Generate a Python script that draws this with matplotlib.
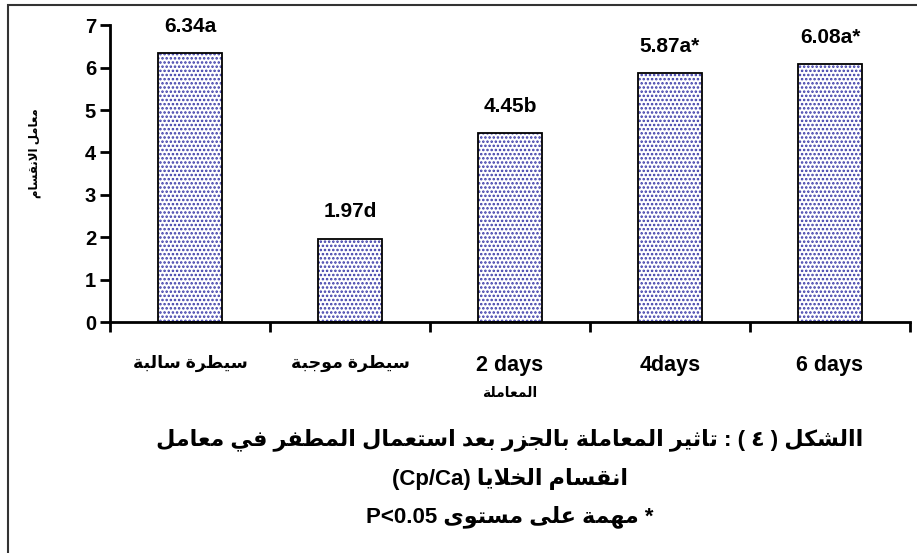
import numpy as np
import matplotlib
matplotlib.use("Agg")
import matplotlib.pyplot as plt
from matplotlib.patches import Rectangle

# ---------------- data ----------------
categories = ['سيطرة سالبة', 'سيطرة موجبة', '2 days', '4days', '6 days']
values = [6.34, 1.97, 4.45, 5.87, 6.08]
sig_letters = ['a', 'd', 'b', 'a*', 'a*']
y_ticks = [0, 1, 2, 3, 4, 5, 6, 7]
x_label = 'المعاملة'
y_label = 'معامل الانقسام'
title_lines = [
    'االشكل ( ٤ ) : تاثير المعاملة بالجزر بعد استعمال المطفر في معامل',
    'انقسام الخلايا (Cp/Ca)',
    '* مهمة على مستوى P<0.05',
]

# ------------- minimal Arabic shaping (matplotlib has no shaper) -------------
FORMS = {
    'ا': ('\uFE8D', '\uFE8E', None, None),
    'إ': ('\uFE87', '\uFE88', None, None),
    'ب': ('\uFE8F', '\uFE90', '\uFE91', '\uFE92'),
    'ة': ('\uFE93', '\uFE94', None, None),
    'ت': ('\uFE95', '\uFE96', '\uFE97', '\uFE98'),
    'ث': ('\uFE99', '\uFE9A', '\uFE9B', '\uFE9C'),
    'ج': ('\uFE9D', '\uFE9E', '\uFE9F', '\uFEA0'),
    'خ': ('\uFEA5', '\uFEA6', '\uFEA7', '\uFEA8'),
    'د': ('\uFEA9', '\uFEAA', None, None),
    'ر': ('\uFEAD', '\uFEAE', None, None),
    'ز': ('\uFEAF', '\uFEB0', None, None),
    'س': ('\uFEB1', '\uFEB2', '\uFEB3', '\uFEB4'),
    'ش': ('\uFEB5', '\uFEB6', '\uFEB7', '\uFEB8'),
    'ط': ('\uFEC1', '\uFEC2', '\uFEC3', '\uFEC4'),
    'ع': ('\uFEC9', '\uFECA', '\uFECB', '\uFECC'),
    'ف': ('\uFED1', '\uFED2', '\uFED3', '\uFED4'),
    'ق': ('\uFED5', '\uFED6', '\uFED7', '\uFED8'),
    'ك': ('\uFED9', '\uFEDA', '\uFEDB', '\uFEDC'),
    'ل': ('\uFEDD', '\uFEDE', '\uFEDF', '\uFEE0'),
    'م': ('\uFEE1', '\uFEE2', '\uFEE3', '\uFEE4'),
    'ن': ('\uFEE5', '\uFEE6', '\uFEE7', '\uFEE8'),
    'ه': ('\uFEE9', '\uFEEA', '\uFEEB', '\uFEEC'),
    'و': ('\uFEED', '\uFEEE', None, None),
    'ى': ('\uFEEF', '\uFEF0', None, None),
    'ي': ('\uFEF1', '\uFEF2', '\uFEF3', '\uFEF4'),
}
LAMALEF = {'ا': ('\uFEFB', '\uFEFC'), 'إ': ('\uFEF9', '\uFEFA')}


def _dual(c):
    return c in FORMS and FORMS[c][2] is not None


def shape(word):
    out = []
    i, n = 0, len(word)
    while i < n:
        c = word[i]
        if c not in FORMS:
            out.append(c)
            i += 1
            continue
        jp = i > 0 and _dual(word[i - 1])
        if c == 'ل' and i + 1 < n and word[i + 1] in LAMALEF:
            out.append(LAMALEF[word[i + 1]][1 if jp else 0])
            i += 2
            continue
        jn = _dual(c) and i + 1 < n and word[i + 1] in FORMS
        f = FORMS[c]
        out.append(f[3] if (jp and jn) else f[2] if jn else f[1] if jp else f[0])
        i += 1
    return ''.join(out)


def has_ar(w):
    return any('\u0600' <= ch <= '\u06FF' for ch in w)


def has_latin(w):
    return any(ch.isascii() and ch.isalnum() for ch in w)


MIRROR = str.maketrans('()', ')(')


def vis_token(w):
    if has_ar(w):
        return shape(w)[::-1]
    if has_latin(w):
        return w
    return w.translate(MIRROR)


def vis(text):
    """Visual (left-to-right) form of a right-to-left paragraph."""
    if not has_ar(text):
        return text
    return ' '.join(vis_token(w) for w in reversed(text.split(' ')))


# ---------------- figure ----------------
plt.rcParams['font.family'] = ['Liberation Sans', 'DejaVu Sans']
plt.rcParams['font.weight'] = 'bold'
plt.rcParams['hatch.linewidth'] = 1.2

W, H = 917, 553
fig = plt.figure(figsize=(W / 100, H / 100), dpi=100)

# outer frame (clipped on right and bottom)
fig.patches.append(Rectangle((8 / W, -0.05), 1.2, 1 - 5 / H + 0.05,
                             transform=fig.transFigure, fill=False,
                             edgecolor='#333333', linewidth=1.5))

ax = fig.add_axes([110 / W, 1 - 322 / H, 800 / W, (322 - 25.3) / H])
x = np.arange(len(values))
bw = 0.4
ax.bar(x, values, width=bw, color='white', edgecolor='#3a3aa8',
       hatch='....', linewidth=0, zorder=2)
ax.bar(x, values, width=bw, fill=False, edgecolor='black', linewidth=1.3,
       zorder=3)

for xi, v, s in zip(x, values, sig_letters):
    ax.annotate(f'{v:.2f}{s}', (xi, v), xytext=(0, 19.5), textcoords='offset points',
                ha='center', va='center', fontsize=15, fontweight='bold')

ax.set_xlim(-0.5, len(values) - 0.5)
ax.set_ylim(0, 7)
ax.set_yticks(y_ticks)
ax.set_yticklabels([str(t) for t in y_ticks], fontsize=14.5, fontweight='bold')
ax.tick_params(axis='y', length=7, width=2, pad=3)

ax.set_xticks(np.arange(len(values) + 1) - 0.5)
ax.set_xticklabels([])
ax.tick_params(axis='x', which='major', length=7, width=2)
ax.set_xticks(x, minor=True)
ax.set_xticklabels([vis(c) for c in categories], minor=True, fontweight='bold')
ax.tick_params(axis='x', which='minor', length=0, pad=24)
for lab, c in zip(ax.get_xticklabels(minor=True), categories):
    lab.set_fontsize(12.5 if has_ar(c) else 15.5)

for sp in ['top', 'right']:
    ax.spines[sp].set_visible(False)
for sp in ['left', 'bottom']:
    ax.spines[sp].set_linewidth(2)

# axis titles
fig.text(35 / W, 1 - 153 / H, vis(y_label), rotation=90, ha='center',
         va='center', fontsize=8.5, fontweight='bold')
fig.text(510 / W, 1 - 393 / H, vis(x_label), ha='center', va='center',
         fontsize=10, fontweight='bold')

# caption
ys = [440, 479, 517]
for line, yy in zip(title_lines, ys):
    fig.text(510 / W, 1 - yy / H, vis(line), ha='center', va='center',
             fontsize=16, fontweight='bold')

fig.savefig('out.png', dpi=100)
